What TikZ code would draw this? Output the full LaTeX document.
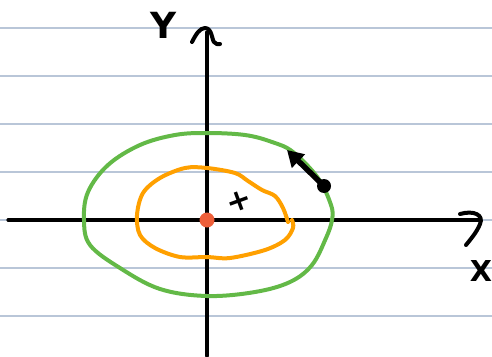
\documentclass[tikz,border=0pt]{standalone}
\usepackage{fontspec}
\setsansfont{DejaVu Sans}
\usetikzlibrary{positioning, arrows.meta, calc}
\definecolor{ruleblue}{HTML}{B9C6D8}
\definecolor{orbgreen}{HTML}{63B947}
\definecolor{orborange}{HTML}{FFA000}
\definecolor{dotred}{HTML}{EE5F3A}

\begin{document}
\begin{tikzpicture}[x=1pt, y=-1pt, line cap=round, line join=round,
          ruling/.style={draw=ruleblue, line width=1.7pt},
          axis/.style={draw=black, line width=3.2pt},
          orbit/.style={line width=4pt},
          lbl/.style={font=\sffamily\bfseries\fontsize{36}{36}\selectfont, text=black, inner sep=0pt}]
        \useasboundingbox (0,0) rectangle (492,356);
        % ruled paper
        \foreach \yy in {28,76,124,172,220,268,316}
          \draw[ruling] (0,\yy) -- (492,\yy);
        % axes
        \coordinate (o) at (207,220);
        \coordinate (xl) at (8,220);
        \coordinate (xr) at (480,220);
        \coordinate (yb) at (207,356);
        \coordinate (yt) at (207,32);
        \draw[axis] (xl) -- (xr);
        \draw[axis] (yb) -- (yt);
        \draw[axis, line width=4pt] (460,214) .. controls (474,210) and (484,215) .. (480,224) .. controls (477,232) and (470,240) .. (466,245);
        \draw[axis, line width=4pt] (192,42) .. controls (196,34) and (200,28) .. (205,28) .. controls (212,28) and (212,40) .. (214,42) .. controls (216,44) and (218,45) .. (220,44);
        \node[lbl] (ylab) at (164,25) {Y};
        \node[lbl, scale=0.8] (xlab) at (481,271) {X};
        % orbits
        \draw[orbit, draw=orbgreen] plot[smooth cycle, tension=0.6] coordinates {
          (207,133) (245,135) (272,142) (293,152) (318,178) (331,205) (332,220)
          (326,238) (312,265) (290,282) (255,292) (207,296) (160,289) (120,268)
          (90,245) (84,220) (88,192) (108,165) (140,145) (175,135)};
        \draw[orbit, draw=orborange] plot[smooth, tension=0.55] coordinates {
          (288,222) (283,208) (275,196) (262,190) (248,181) (235,173) (207,168)
          (185,168) (160,178) (143,193) (137,215) (140,235) (155,248) (180,257)
          (207,257) (230,258) (265,250) (285,240) (293,228) (292,220)};
        % sun and points
        \node[circle, fill=dotred, minimum size=15pt, inner sep=0pt] (sun) at (o) {};
        \node[font=\sffamily\bfseries\fontsize{30}{30}\selectfont, inner sep=0pt, rotate=20] (focus) at (239,201) {+};
        % velocity arrow
        \node[circle, fill=black, minimum size=14pt, inner sep=0pt] (body) at (324,186) {};
        \coordinate (vtip) at (287,150);
        \draw[line width=5.5pt, -{Triangle[width=18pt, length=16pt]}] (body.center) -- (vtip);
\end{tikzpicture}
\end{document}
